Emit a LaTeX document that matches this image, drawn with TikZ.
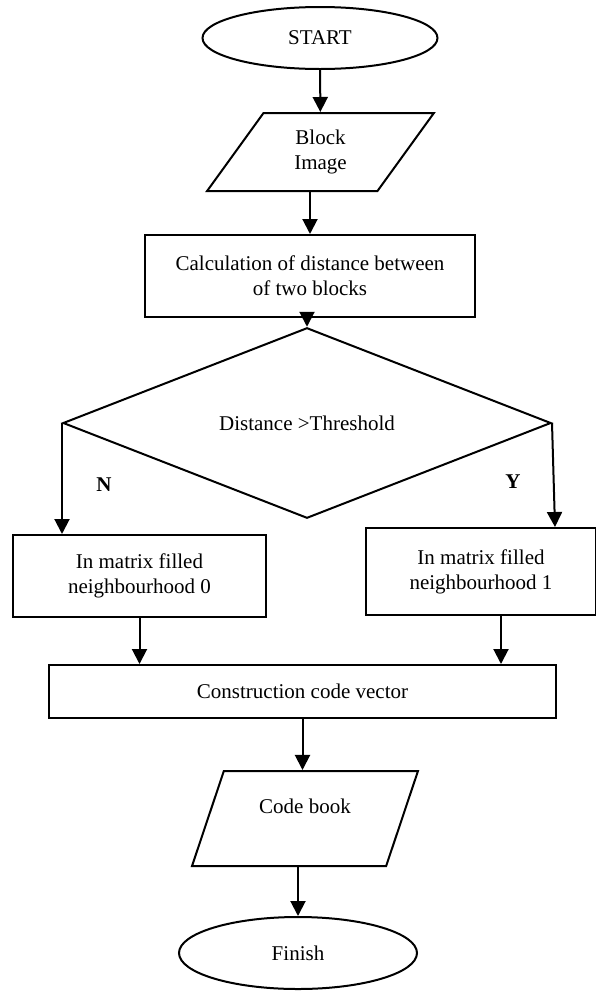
\documentclass[tikz,border=0pt]{standalone}
\usepackage{fontspec}
\setmainfont{Liberation Serif}
\usetikzlibrary{shapes,arrows.meta}

\begin{document}
\begin{tikzpicture}[x=1pt,y=-1pt,line width=2pt,
  every node/.style={font=\fontsize{21}{25}\selectfont},
  term/.style={draw,ellipse,inner sep=0pt},
  io/.style={draw,trapezium,trapezium stretches=true,inner sep=0pt,align=center},
  box/.style={draw,rectangle,inner sep=0pt,align=center},
  test/.style={draw,diamond,inner sep=0pt},
  lbl/.style={font=\fontsize{21}{25}\selectfont\bfseries},
  arr/.style={-{Triangle[length=15pt,width=15pt]}}]
\useasboundingbox (0,0) rectangle (595,991);

% shapes
\node[term,minimum width=235pt,minimum height=62pt] (start) at (320,38) {START};
\node[io,trapezium left angle=59.5,trapezium right angle=120.5,
  minimum width=227pt,minimum height=78pt] (blk) at (320.5,152) {Block\\Image};
\node[box,minimum width=330pt,minimum height=82pt] (calc) at (310,276)
  {Calculation of distance between\\of two blocks};
\node[test,minimum width=488pt,minimum height=142pt] (dist) at (307,423)
  {Distance >Threshold};
\node[box,minimum width=253pt,minimum height=82pt] (nb0) at (139.5,576)
  {In matrix filled\\neighbourhood 0};
\node[box,minimum width=230pt,minimum height=87pt] (nb1) at (481,571.5)
  {In matrix filled\\neighbourhood 1};
\node[box,minimum width=507pt,minimum height=53pt] (cons) at (302.5,691.5)
  {Construction code vector};
\node[io,trapezium left angle=65.6,trapezium right angle=114.4,
  minimum width=226pt,minimum height=95pt] (cb) at (305,818.5) {Code book\\\phantom{x}};
\node[term,minimum width=238pt,minimum height=72pt] (fin) at (298,953) {Finish};

% arrows
\draw[arr] (start) -- (blk);
\draw[arr] (blk.south -| calc.north) -- (calc.north);
\draw[arr] (calc.south -| dist.north) -- (dist.north);
\draw[arr] (dist.west) -- (dist.west |- nb0.north);
\draw[arr] (dist.east) -- ([xshift=74pt]nb1.north);
\draw[arr] (nb0.south) -- (nb0.south |- cons.north);
\draw[arr] ([xshift=20pt]nb1.south) -- ([xshift=20pt]nb1.south |- cons.north);
\draw[arr] (cons.south) -- (cons.south |- cb.north);
\draw[arr] (cb.south -| fin.north) -- (fin.north);

% labels
\node[lbl] (n) at (104,485) {N};
\node[lbl] (y) at (513,482) {Y};
\end{tikzpicture}
\end{document}
